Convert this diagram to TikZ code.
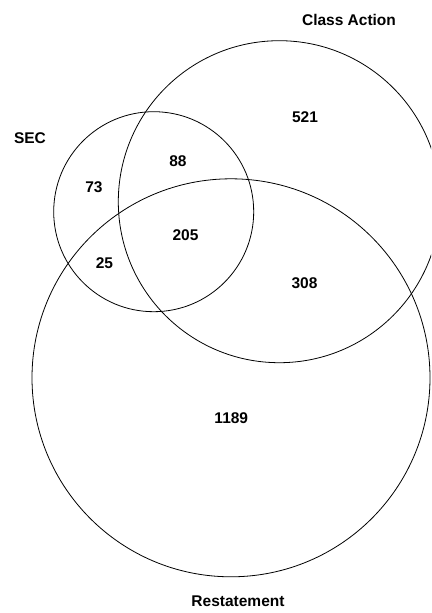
\documentclass[tikz,border=0pt]{standalone}
\usepackage{fontspec}
\setmainfont{Liberation Sans}
\begin{document}
\begin{tikzpicture}[x=1pt,y=-1pt,
  setcircle/.style={draw=black,line width=0.8pt},
  lbl/.style={font=\fontsize{15.5}{18}\selectfont\bfseries,text=black,inner sep=0pt},
  num/.style={font=\fontsize{15.5}{18}\selectfont\bfseries,text=black,inner sep=0pt}]
\useasboundingbox[fill=white] (0,0) rectangle (431,613);
\begin{scope}
\clip (0,0) rectangle (431,613);
\draw[setcircle] (153.7,211.7) circle[radius=100];
\draw[setcircle] (279.3,201.7) circle[radius=161];
\draw[setcircle] (231,377.8) circle[radius=199];
\end{scope}
\node[lbl] (ca) at (349,20) {Class Action};
\node[lbl] (sec) at (30,138) {SEC};
\node[lbl] (rs) at (238,601) {Restatement};
\node[num] (n521) at (305,117) {521};
\node[num] (n88) at (178,161) {88};
\node[num] (n73) at (94,187.5) {73};
\node[num] (n205) at (185.5,235.5) {205};
\node[num] (n25) at (104.5,263.3) {25};
\node[num] (n308) at (304.5,283.3) {308};
\node[num] (n1189) at (231.3,418) {1189};
\end{tikzpicture}
\end{document}
